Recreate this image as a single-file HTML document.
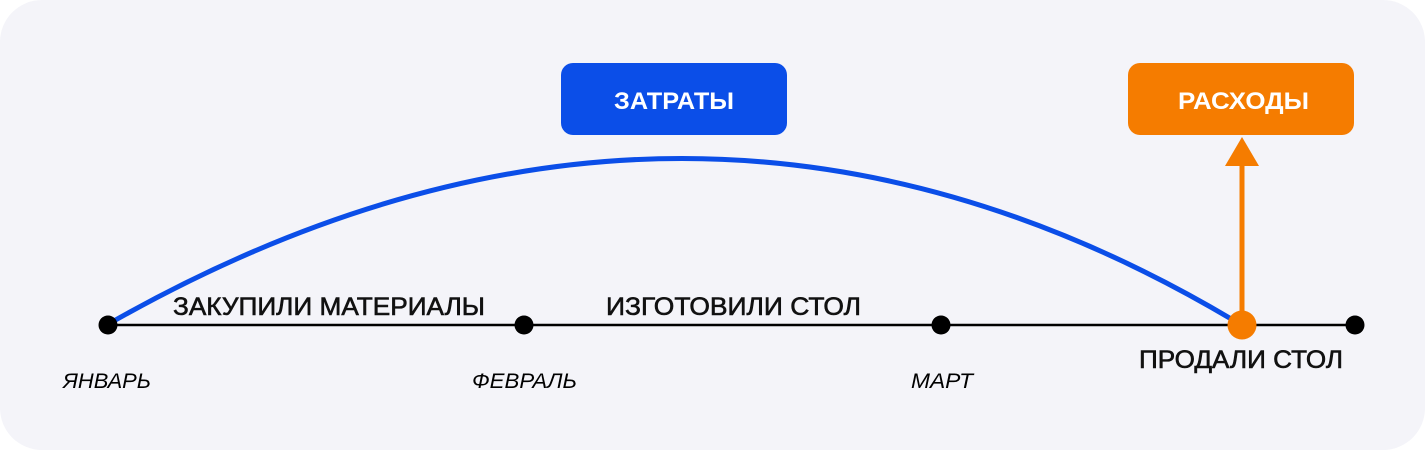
<!DOCTYPE html>
<html><head><meta charset="utf-8"><style>
html,body{margin:0;padding:0;background:#fff;}
body{width:1425px;height:450px;overflow:hidden;}
</style></head><body>
<svg width="1425" height="450" xmlns="http://www.w3.org/2000/svg" font-family="Liberation Sans, DejaVu Sans, sans-serif">
<rect x="0" y="0" width="1425" height="450" rx="42" fill="#f4f4f9"/>
<rect x="561" y="63" width="226" height="72" rx="12" fill="#0b4ee8"/>
<text x="614" y="109" font-size="24" font-weight="bold" fill="#fff" textLength="120" lengthAdjust="spacingAndGlyphs">ЗАТРАТЫ</text>
<rect x="1128" y="63" width="226" height="72" rx="12" fill="#f57c00"/>
<text x="1178" y="109" font-size="24" font-weight="bold" fill="#fff" textLength="131" lengthAdjust="spacingAndGlyphs">РАСХОДЫ</text>
<path d="M112 322 Q688 -4 1233 320" fill="none" stroke="#0b4ee8" stroke-width="5"/>
<line x1="108" y1="325" x2="1355" y2="325" stroke="#000" stroke-width="2.5"/>
<line x1="1242" y1="312" x2="1242" y2="162" stroke="#f57c00" stroke-width="5"/>
<polygon points="1242,137 1225,166 1259,166" fill="#f57c00"/>
<circle cx="108" cy="325" r="9.5" fill="#000"/>
<circle cx="524" cy="325" r="9.5" fill="#000"/>
<circle cx="941" cy="325" r="9.5" fill="#000"/>
<circle cx="1355" cy="325" r="9.5" fill="#000"/>
<circle cx="1242" cy="325" r="14.5" fill="#f57c00"/>
<g font-size="25" fill="#111" stroke="#111" stroke-width="0.6">
<text x="173" y="315" textLength="312" lengthAdjust="spacingAndGlyphs">ЗАКУПИЛИ МАТЕРИАЛЫ</text>
<text x="606" y="315" textLength="255" lengthAdjust="spacingAndGlyphs">ИЗГОТОВИЛИ СТОЛ</text>
<text x="1139" y="368" textLength="204" lengthAdjust="spacingAndGlyphs">ПРОДАЛИ СТОЛ</text>
</g>
<g font-size="21" font-style="italic" fill="#000">
<text x="63" y="388" textLength="88" lengthAdjust="spacingAndGlyphs">ЯНВАРЬ</text>
<text x="472" y="388" textLength="105" lengthAdjust="spacingAndGlyphs">ФЕВРАЛЬ</text>
<text x="911" y="388" textLength="62" lengthAdjust="spacingAndGlyphs">МАРТ</text>
</g>
</svg>
</body></html>
